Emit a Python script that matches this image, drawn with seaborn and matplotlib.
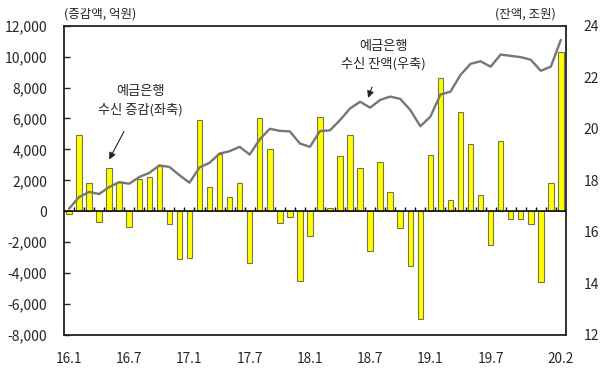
import numpy as np
import pandas as pd
import matplotlib
matplotlib.use("Agg")
import matplotlib.pyplot as plt
import seaborn as sns
from matplotlib.ticker import FuncFormatter, MultipleLocator

# ---- data ----
years = [2016, 2017, 2018, 2019, 2020]
months = [f"{y % 100}.{m}" for y in years for m in range(1, 13)][:50]  # 16.1 ... 20.2

# monthly change in deposits (left axis, 억원)
flow = [-200, 4950, 1800, -700, 2800, 1900, -1000, 2100, 2200, 2900, -800, -3100,
        -3000, 5900, 1600, 3700, 900, 1800, -3350, 6050, 4000, -750, -350, -4500,
        -1600, 6100, 200, 3600, 4900, 2800, -2550, 3200, 1250, -1050, -3550, -6950,
        3650, 8650, 700, 6400, 4350, 1050, -2200, 4550, -500, -500, -850, -4600,
        1800, 10300]

# deposit balance (right axis, 조원)
balance = [16.9, 17.35, 17.55, 17.47, 17.74, 17.93, 17.87, 18.13, 18.29, 18.58, 18.52, 18.2,
           17.91, 18.5, 18.68, 19.04, 19.13, 19.3, 19.0, 19.59, 20.0, 19.92, 19.9, 19.43,
           19.3, 19.91, 19.94, 20.34, 20.79, 21.05, 20.82, 21.12, 21.25, 21.16, 20.73, 20.1,
           20.47, 21.33, 21.44, 22.09, 22.52, 22.62, 22.41, 22.88, 22.83, 22.78, 22.68, 22.25,
           22.41, 23.45]

xtick_labels = ["16.1", "16.7", "17.1", "17.7", "18.1", "18.7", "19.1", "19.7", "20.2"]

df = pd.DataFrame({"month": months, "flow": flow, "balance": balance,
                   "idx": np.arange(len(months))})

# ---- style ----
sns.set_style("white")
plt.rcParams["font.family"] = ["Noto Sans CJK KR", "DejaVu Sans"]

fig = plt.figure(figsize=(6.02, 3.78), dpi=100)
ax = fig.add_axes([0.1063, 0.1138, 0.8337, 0.8182])

sns.barplot(data=df, x="month", y="flow", order=months, color="#FFFF00",
            saturation=1, width=0.55, edgecolor="#76764a", linewidth=0.8, ax=ax)

ax.set_ylim(-8000, 12000)
ax.yaxis.set_major_locator(MultipleLocator(2000))
ax.yaxis.set_major_formatter(FuncFormatter(lambda v, p: f"{int(v):,}"))
ax.set_xlim(-0.5, len(months) - 0.5)
ax.axhline(0, color="black", lw=1.1, zorder=3)
# small category ticks on the zero line
ax.vlines(np.arange(0.5, len(months) - 1, 1), 0, 260, color="black", lw=1.0, zorder=3)

pos = [months.index(l) for l in xtick_labels]
ax.set_xticks(pos)
ax.set_xticklabels(xtick_labels)
ax.set_xlabel("")
ax.set_ylabel("")
ax.tick_params(axis="x", length=0, pad=12, labelsize=9.8)
ax.tick_params(axis="y", direction="in", length=4, width=1, pad=12, labelsize=10, left=True)

for s in ax.spines.values():
    s.set_visible(True)
    s.set_color("#222222")
    s.set_linewidth(1.3)

ax2 = ax.twinx()
sns.lineplot(data=df, x="idx", y="balance", color="#767676", lw=1.7, ax=ax2)
ax2.set_ylim(12, 24)
ax2.yaxis.set_major_locator(MultipleLocator(2))
ax2.set_xlim(-0.5, len(months) - 0.5)
ax2.set_ylabel("")
ax2.set_xlabel("")
ax2.tick_params(axis="y", length=0, pad=13, labelsize=10)
for s in ax2.spines.values():
    s.set_visible(False)

# unit labels
fig.text(64 / 602, 1 - 14 / 378, "(증감액, 억원)", fontsize=9, ha="left", va="center")
fig.text(556 / 602, 1 - 14 / 378, "(잔액, 조원)", fontsize=9, ha="right", va="center")

# annotations
ax.annotate("예금은행\n수신 증감(좌축)", xy=(4, 3350), xytext=(7.1, 7150),
            ha="center", va="center", fontsize=9.5, linespacing=1.4,
            arrowprops=dict(arrowstyle="-|>", color="#222222", lw=0.8,
                            mutation_scale=10, shrinkA=10, shrinkB=0))
ax2.annotate("예금은행\n수신 잔액(우축)", xy=(29.8, 21.2), xytext=(31.3, 22.85),
             ha="center", va="center", fontsize=9.5, linespacing=1.4,
             arrowprops=dict(arrowstyle="-|>", color="#222222", lw=0.8,
                             mutation_scale=10, shrinkA=10, shrinkB=0))

fig.savefig("out.png", dpi=100)
